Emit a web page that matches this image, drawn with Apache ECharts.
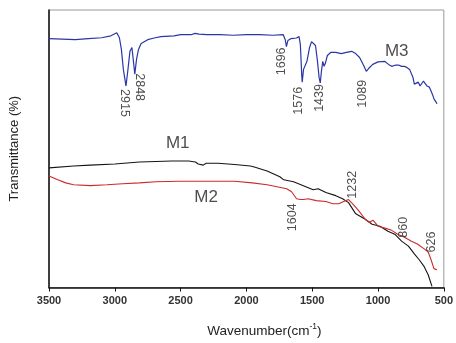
<!DOCTYPE html>
<html>
<head>
<meta charset="utf-8">
<script src="https://cdn.jsdelivr.net/npm/echarts@6/dist/echarts.min.js"></script>
<style>
  html, body { margin: 0; padding: 0; background: #fff; }
  #chart { width: 456px; height: 343px; }
</style>
</head>
<body>
<div id="chart"></div>
<script>
// x ticks
const xTicks = [3500, 3000, 2500, 2000, 1500, 1000, 500];

// M3 (blue) - [wavenumber, transmittance]
const m3Data = [
  [3500, 89.7], [3400, 89.5], [3300, 89.3], [3200, 89.7], [3100, 90.0], [3030, 90.7],
  [2985, 91.8], [2965, 90.0], [2950, 85.8], [2935, 78.6], [2915, 72.6], [2900, 78.6],
  [2885, 85.1], [2870, 86.5], [2860, 82.2], [2848, 76.9], [2835, 82.2], [2820, 85.8],
  [2800, 87.9], [2750, 89.3], [2700, 89.9], [2650, 90.4], [2550, 90.7], [2500, 91.1],
  [2420, 91.1], [2390, 91.6], [2360, 91.3], [2300, 91.1], [2200, 91.1], [2100, 90.9],
  [2000, 91.1], [1900, 91.1], [1800, 90.9], [1720, 91.1], [1705, 89.3], [1696, 86.8],
  [1685, 89.0], [1660, 89.7], [1620, 89.9], [1600, 90.4], [1590, 87.5], [1580, 76.9],
  [1576, 74.0], [1566, 78.6], [1556, 77.9], [1540, 81.5], [1520, 86.5], [1505, 88.6],
  [1490, 88.8], [1475, 87.2], [1460, 81.5], [1448, 75.8], [1439, 73.7], [1430, 77.9],
  [1420, 81.5], [1410, 79.7], [1400, 80.8], [1385, 83.6], [1360, 84.7], [1320, 84.7],
  [1280, 84.3], [1240, 84.7], [1200, 85.1], [1170, 84.3], [1140, 82.9], [1110, 80.1],
  [1089, 77.9], [1070, 79.0], [1040, 80.4], [1000, 81.3], [985, 81.7], [950, 81.5],
  [920, 80.4], [896, 79.7], [870, 80.1], [859, 80.8], [840, 80.1], [821, 79.7],
  [800, 79.7], [784, 79.4], [760, 78.6], [746, 77.9], [735, 75.8], [724, 73.3],
  [710, 74.0], [694, 74.0], [680, 72.6], [672, 72.9], [655, 74.4], [642, 73.7],
  [627, 72.6], [610, 72.2], [597, 70.8], [585, 69.4], [575, 68.0], [560, 66.9], [552, 66.2]
];

// M1 (black)
const m1Data = [
  [3500, 43.1], [3313, 43.8], [3187, 44.1], [3000, 44.5], [2813, 45.2], [2687, 45.4],
  [2567, 45.6], [2440, 45.6], [2388, 45.2], [2366, 44.5], [2351, 43.8], [2328, 44.1],
  [2306, 44.8], [2216, 44.8], [2090, 44.3], [1970, 43.8], [1940, 43.4], [1843, 42.0],
  [1746, 39.9], [1716, 38.8], [1642, 38.1], [1567, 36.7], [1493, 35.2], [1455, 35.6],
  [1396, 34.2], [1321, 33.1], [1269, 32.0], [1224, 30.6], [1172, 26.7], [1097, 24.6],
  [1045, 22.8], [985, 22.1], [925, 20.3], [873, 19.2], [821, 16.7], [769, 14.9],
  [724, 12.1], [687, 10.0], [649, 7.5], [619, 4.6], [590, 0.4]
];

// M2 (red)
const m2Data = [
  [3500, 40.2], [3433, 38.8], [3373, 37.7], [3313, 37.0], [3187, 36.7], [3060, 37.0],
  [2940, 37.4], [2813, 37.7], [2687, 38.1], [2515, 38.3], [2366, 38.3], [2090, 38.3],
  [1955, 37.7], [1843, 37.0], [1694, 35.6], [1657, 34.5], [1619, 32.0], [1590, 31.7],
  [1567, 31.7], [1530, 32.0], [1470, 31.3], [1396, 31.0], [1343, 30.2], [1299, 30.2],
  [1261, 31.0], [1224, 31.7], [1187, 29.9], [1149, 27.8], [1097, 24.6], [1067, 23.5],
  [1037, 24.2], [1000, 22.1], [948, 21.4], [896, 20.6], [851, 19.2], [799, 18.1],
  [746, 16.7], [701, 15.7], [649, 13.9], [619, 12.8], [597, 10.0], [575, 6.8], [552, 6.4]
];

// peak annotations: [wavenumber, transmittance, text]
const peaksDown = [[2925, 66.5, '2915'], [2813, 72.2, '2848']];
const peaksUp = [
  [1731, 81.5, '1696'], [1604, 67.3, '1576'], [1448, 68.3, '1439'], [1119, 69.8, '1089'],
  [1649, 25.3, '1604'], [1194, 37.0, '1232'], [806, 21.7, '860'], [597, 16.4, '626']
];
const sampleNames = [[2522, 52.0, 'M1'], [2306, 32.4, 'M2'], [858, 85.1, 'M3']];

const chart = echarts.init(document.getElementById('chart'));

function labelSeries(list, rotate, size) {
  return {
    type: 'scatter',
    symbolSize: 0,
    silent: true,
    z: 5,
    data: list.map(p => ({ value: [p[0], p[1]], name: p[2] })),
    label: {
      show: true,
      position: 'inside',
      formatter: '{b}',
      rotate: rotate,
      align: 'center',
      verticalAlign: 'middle',
      fontFamily: 'Liberation Sans, Arial, sans-serif',
      fontSize: size,
      color: '#222'
    }
  };
}

const option = {
  animation: false,
  backgroundColor: '#fff',
  grid: {
    left: 48, right: 6, top: 10, bottom: 52,
    show: true, borderColor: '#999', borderWidth: 1
  },
  xAxis: {
    type: 'value',
    inverse: true,
    min: 500, max: 3500, interval: 500,
    name: '{n|Wavenumber(cm}{sup|-1}{n|)}',
    nameLocation: 'middle',
    nameGap: 35,
    nameTextStyle: {
      fontFamily: 'Liberation Sans, Arial, sans-serif',
      fontSize: 13.5, color: '#222',
      padding: [0, 0, 0, 36],
      rich: {
        n: { fontFamily: 'Liberation Sans, Arial, sans-serif', fontSize: 13.5, color: '#222', lineHeight: 17 },
        sup: { fontFamily: 'Liberation Sans, Arial, sans-serif', fontSize: 8.5, color: '#222', verticalAlign: 'top', lineHeight: 10 }
      }
    },
    axisLine: { onZero: false, lineStyle: { color: '#111', width: 1.5 } },
    axisTick: { show: true, inside: false, length: 4, lineStyle: { color: '#111' } },
    axisLabel: {
      margin: 8,
      fontFamily: 'Liberation Sans, Arial, sans-serif',
      fontSize: 11, fontWeight: 'bold', color: '#333',
      formatter: v => xTicks.includes(v) ? String(v) : ''
    },
    splitLine: { show: false }
  },
  yAxis: {
    type: 'value',
    min: 0, max: 100,
    name: 'Transmittance (%)',
    nameLocation: 'middle',
    nameGap: 28,
    nameTextStyle: { fontFamily: 'Liberation Sans, Arial, sans-serif', fontSize: 13, color: '#222' },
    axisLine: { show: true, onZero: false, lineStyle: { color: '#111', width: 1.5 } },
    axisTick: { show: false },
    axisLabel: { show: false },
    splitLine: { show: false }
  },
  series: [
    {
      name: 'M1', type: 'line', data: m1Data, showSymbol: false, silent: true,
      lineStyle: { color: '#151515', width: 1.1 }
    },
    {
      name: 'M2', type: 'line', data: m2Data, showSymbol: false, silent: true,
      lineStyle: { color: '#cc2a2a', width: 1.1 }
    },
    {
      name: 'M3', type: 'line', data: m3Data, showSymbol: false, silent: true,
      lineStyle: { color: '#2b36a6', width: 1.2 }
    },
    labelSeries(peaksDown, -90, 12.5),
    labelSeries(peaksUp, 90, 12.5),
    labelSeries(sampleNames, 0, 17)
  ]
};
chart.setOption(option, true);
</script>
</body>
</html>
